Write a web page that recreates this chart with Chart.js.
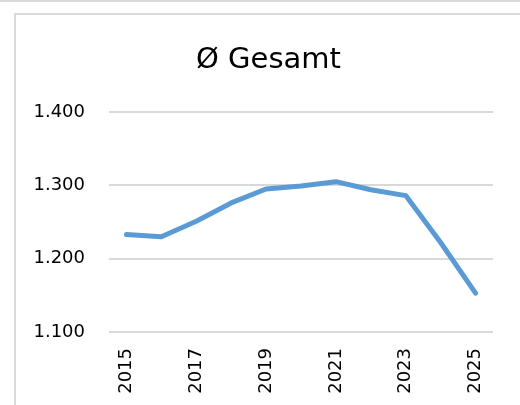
<!DOCTYPE html>
<html>
<head>
<meta charset="utf-8">
<script src="https://cdn.jsdelivr.net/npm/chart.js@4"></script>
<style>
  html, body { margin: 0; padding: 0; background: #fff; width: 520px; height: 405px; overflow: hidden; position: relative; }
  #topline { position: absolute; left: 0; top: 0; width: 520px; height: 2px; background: #d9d9d9; }
  #frame { position: absolute; left: 14px; top: 13px; width: 520px; height: 420px; border-left: 2px solid #d9d9d9; border-top: 2px solid #d9d9d9; }
  #c { position: absolute; left: 15px; top: 14px; }
</style>
</head>
<body>
<div id="topline"></div>
<div id="frame"></div>
<canvas id="c" width="507" height="391"></canvas>
<script>
const titleText = "Ø Gesamt";
const categories = ["2015","2016","2017","2018","2019","2020","2021","2022","2023","2024","2025"];
const values = [1233, 1230, 1251, 1276, 1295, 1299, 1305, 1294, 1286, 1222, 1153];
const yTicks = [1100, 1200, 1300, 1400];

function fmtDE(v) {
  const s = String(Math.round(v));
  return s.replace(/\B(?=(\d{3})+(?!\d))/g, ".");
}

const FONT = "'DejaVu Sans', sans-serif";

const titlePlugin = {
  id: 'boxTitle',
  afterDraw(chart) {
    const ctx = chart.ctx;
    ctx.save();
    ctx.font = "29px " + FONT;
    ctx.fillStyle = '#000';
    ctx.textAlign = 'center';
    ctx.textBaseline = 'alphabetic';
    ctx.fillText(titleText, chart.width / 2, 54);
    ctx.restore();
  }
};

new Chart(document.getElementById('c'), {
  type: 'line',
  data: {
    labels: categories,
    datasets: [{
      data: values,
      borderColor: '#5B9BD5',
      backgroundColor: '#5B9BD5',
      borderWidth: 5,
      pointRadius: 0,
      tension: 0,
      borderCapStyle: 'round',
      borderJoinStyle: 'round',
      fill: false
    }]
  },
  plugins: [titlePlugin],
  options: {
    responsive: false,
    animation: false,
    devicePixelRatio: 1,
    layout: { padding: { left: 0, right: 29, top: 98, bottom: 0 } },
    plugins: {
      legend: { display: false },
      tooltip: { enabled: false },
      title: { display: false }
    },
    scales: {
      x: {
        type: 'category',
        offset: true,
        grid: { display: false, drawTicks: false },
        border: { display: false },
        ticks: {
          autoSkip: false,
          minRotation: 90,
          maxRotation: 90,
          padding: 16,
          color: '#000',
          font: { family: FONT, size: 18 },
          callback: function(v, i) { return i % 2 === 0 ? categories[i] : ''; }
        },
        afterFit: function(s) { s.height = 73; }
      },
      y: {
        min: yTicks[0],
        max: yTicks[yTicks.length - 1],
        grid: { color: '#d9d9d9', lineWidth: 2, drawTicks: false },
        border: { display: false },
        afterBuildTicks: function(s) { s.ticks = yTicks.map(v => ({ value: v })); },
        ticks: {
          padding: 24,
          color: '#000',
          font: { family: FONT, size: 18 },
          callback: function(v) { return fmtDE(v); }
        },
        afterFit: function(s) { s.width = 94; }
      }
    }
  }
});
</script>
</body>
</html>
